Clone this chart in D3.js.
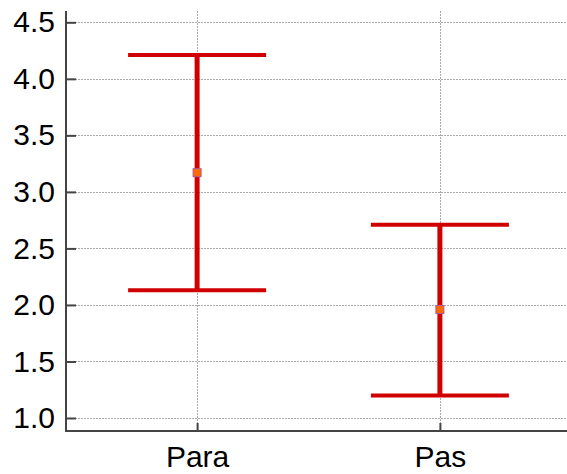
<!DOCTYPE html>
<html>
<head>
<meta charset="utf-8">
<script src="https://cdn.jsdelivr.net/npm/d3@7"></script>
<style>
  html, body { margin: 0; padding: 0; background: #fff; }
  svg { display: block; font-family: "Liberation Sans", Arial, sans-serif; }
</style>
</head>
<body>
<svg id="chart" width="567" height="474"></svg>
<script>
// Group names and their mean with lower / upper interval bounds
const categories = ["Para", "Pas"];
const means = [3.17, 1.96];
const lowers = [2.13, 1.20];
const uppers = [4.21, 2.71];
const yTicks = [1.0, 1.5, 2.0, 2.5, 3.0, 3.5, 4.0, 4.5];

const svg = d3.select("#chart");
const margin = { left: 66, right: -4, top: 11, bottom: 43 };
const width = 567, height = 474;

const x = d3.scalePoint()
  .domain(categories)
  .range([margin.left, width - margin.right])
  .padding(0.54);

const y = d3.scaleLinear()
  .domain([0.885, 4.6])
  .range([height - margin.bottom, margin.top]);

const plotBottom = height - margin.bottom;
const plotTop = margin.top;

// dotted grid
const grid = svg.append("g").attr("stroke", "#aaa").attr("stroke-width", 1)
  .attr("stroke-dasharray", "2,1");
grid.selectAll("line.h").data(yTicks).join("line")
  .attr("x1", margin.left).attr("x2", width)
  .attr("y1", d => Math.round(y(d)) + 0.5).attr("y2", d => Math.round(y(d)) + 0.5);
grid.selectAll("line.v").data(categories).join("line")
  .attr("x1", d => Math.round(x(d)) + 0.5).attr("x2", d => Math.round(x(d)) + 0.5)
  .attr("y1", plotTop).attr("y2", plotBottom);

// y axis
const yAxis = svg.append("g")
  .attr("transform", `translate(${margin.left},0)`)
  .call(d3.axisLeft(y).tickValues(yTicks).tickFormat(d3.format(".1f"))
    .tickSize(-10).tickPadding(11));
yAxis.select(".domain").remove();
yAxis.selectAll(".tick line").attr("stroke", "#444").attr("stroke-width", 2);
yAxis.selectAll("text").attr("font-size", 30).attr("fill", "#000")
  .attr("font-family", "Liberation Sans, Arial, sans-serif");
svg.append("line")
  .attr("x1", margin.left).attr("x2", margin.left)
  .attr("y1", plotTop).attr("y2", plotBottom + 1)
  .attr("stroke", "#444").attr("stroke-width", 2);

// x axis
const xAxis = svg.append("g")
  .attr("transform", `translate(0,${plotBottom})`)
  .call(d3.axisBottom(x).tickSize(-8).tickPadding(15));
xAxis.select(".domain").remove();
xAxis.selectAll(".tick line").attr("stroke", "#444").attr("stroke-width", 2);
xAxis.selectAll("text").attr("font-size", 30).attr("fill", "#000")
  .attr("font-family", "Liberation Sans, Arial, sans-serif");
svg.append("line")
  .attr("x1", margin.left - 1).attr("x2", width)
  .attr("y1", plotBottom).attr("y2", plotBottom)
  .attr("stroke", "#444").attr("stroke-width", 2);

// error bars
const capHalf = 69;
const red = "#d00000";
const bars = svg.append("g").selectAll("g").data(categories).join("g");
bars.append("line")
  .attr("x1", d => x(d)).attr("x2", d => x(d))
  .attr("y1", (d, i) => y(uppers[i])).attr("y2", (d, i) => y(lowers[i]))
  .attr("stroke", red).attr("stroke-width", 5);
bars.append("line")
  .attr("x1", d => x(d) - capHalf).attr("x2", d => x(d) + capHalf)
  .attr("y1", (d, i) => y(uppers[i])).attr("y2", (d, i) => y(uppers[i]))
  .attr("stroke", red).attr("stroke-width", 4);
bars.append("line")
  .attr("x1", d => x(d) - capHalf).attr("x2", d => x(d) + capHalf)
  .attr("y1", (d, i) => y(lowers[i])).attr("y2", (d, i) => y(lowers[i]))
  .attr("stroke", red).attr("stroke-width", 4);

// mean markers
bars.append("rect")
  .attr("x", d => x(d) - 4).attr("y", (d, i) => y(means[i]) - 4)
  .attr("width", 8).attr("height", 8)
  .attr("fill", "#ff6a00").attr("stroke", "#b05a9a").attr("stroke-width", 1);
</script>
</body>
</html>
